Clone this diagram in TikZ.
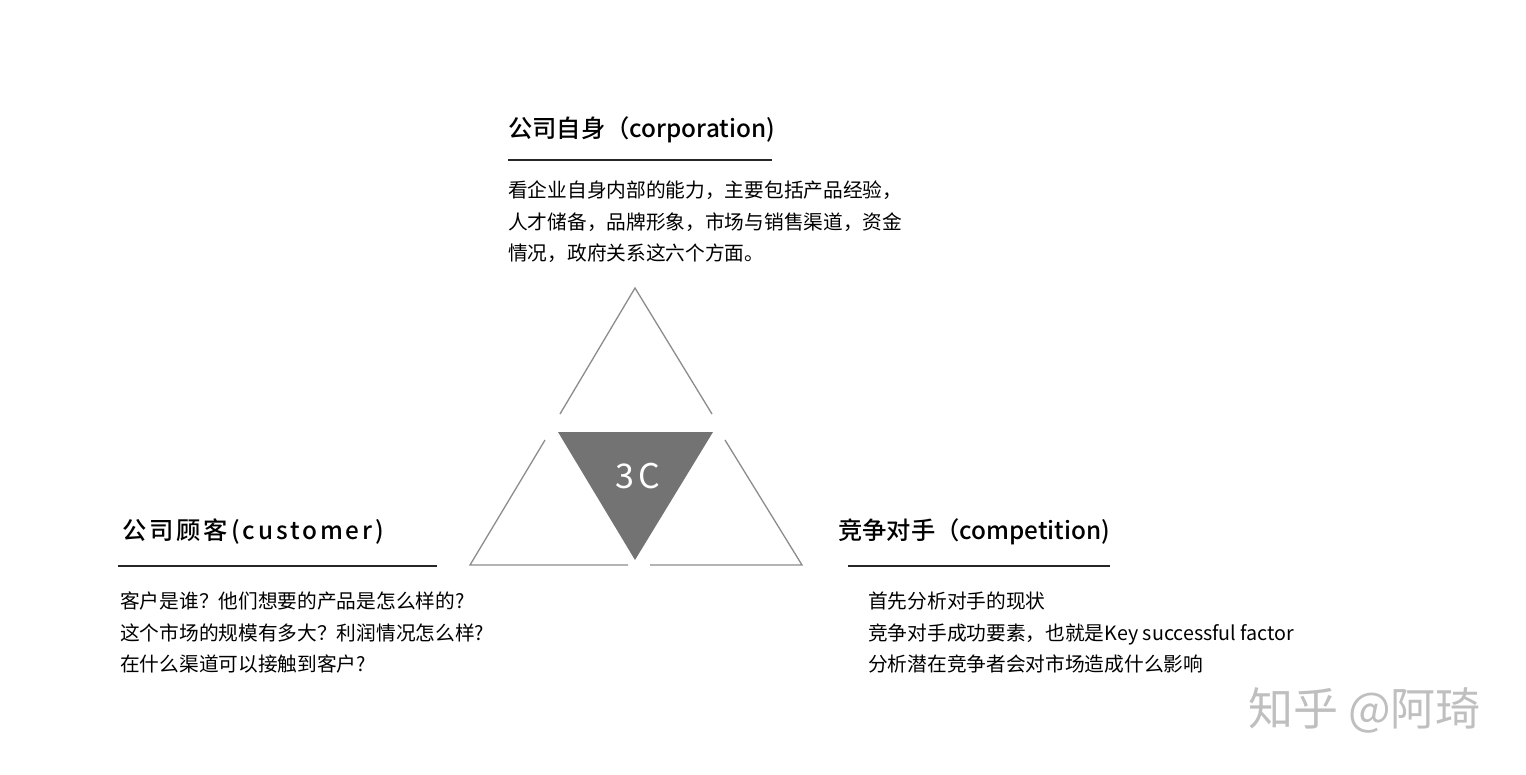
\documentclass[tikz,border=0pt]{standalone}
\usepackage{fontspec}
\setmainfont{Noto Sans CJK SC}[BoldFont={Noto Sans CJK SC Medium}]
\begin{document}
\begin{tikzpicture}[x=1pt,y=-1pt,
  tri/.style={draw=black!45,line width=1.3pt},
  ttl/.style={anchor=west,font=\fontsize{24.3}{28}\selectfont\bfseries,inner sep=0},
  body/.style={anchor=north west,align=left,font=\fontsize{19.7}{31.5}\selectfont,inner sep=0},
  uline/.style={line width=2.5pt,black!85}]
\useasboundingbox (0,0) rectangle (1526,774);
\fill[white] (0,0) rectangle (1526,774);
% triangles
\draw[tri] (560,414) -- (635,288) -- (712,414);
\draw[tri] (545,440) -- (470,565) -- (628,565);
\draw[tri] (725,440) -- (802,565) -- (650,565);
\fill[black!55] (558,432) -- (713,432) -- (635,560) -- cycle;
\node[white,font=\fontsize{34}{40}\selectfont\addfontfeature{LetterSpace=12}] (c) at (638,476) {3C};
% top
\node[ttl] (t1) at (508,130) {公司自身（corporation)};
\coordinate (u1a) at (508,160); \coordinate (u1b) at (772,160);
\draw[uline] (u1a) -- (u1b);
\node[body] (b1) at (508,181) {看企业自身内部的能力，主要包括产品经验，\\人才储备，品牌形象，市场与销售渠道，资金\\情况，政府关系这六个方面。};
% left
\node[ttl] (t2) at (122,532) {\addfontfeature{LetterSpace=12}公司顾客(customer)};
\coordinate (u2a) at (118,566); \coordinate (u2b) at (437,566);
\draw[uline] (u2a) -- (u2b);
\node[body] (b2) at (120,592) {客户是谁？他们想要的产品是怎么样的?\\这个市场的规模有多大？利润情况怎么样?\\在什么渠道可以接触到客户?};
% right
\node[ttl] (t3) at (838,532) {竞争对手（competition)};
\coordinate (u3a) at (848,566); \coordinate (u3b) at (1110,566);
\draw[uline] (u3a) -- (u3b);
\node[body] (b3) at (868,592) {首先分析对手的现状\\竞争对手成功要素，也就是Key successful factor\\分析潜在竞争者会对市场造成什么影响};
% watermark
\node[anchor=west,black!25,font=\fontsize{45}{50}\selectfont,inner sep=0] (w) at (1248,710) {知乎 @阿琦};
\end{tikzpicture}
\end{document}
